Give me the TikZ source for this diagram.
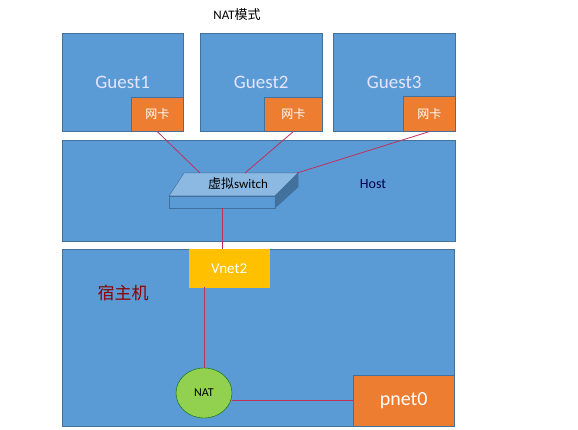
\documentclass[tikz,border=0pt]{standalone}
\usepackage{fontspec}
\setmainfont{Carlito}
\newfontfamily\cjk{Noto Sans CJK SC}
\usetikzlibrary{positioning}
\usetikzlibrary{shapes.geometric}

\definecolor{boxblue}{HTML}{5B9BD5}
\definecolor{boxedge}{HTML}{41719C}
\definecolor{nicorange}{HTML}{ED7D31}
\definecolor{vnetyellow}{HTML}{FFC000}
\definecolor{natgreen}{HTML}{92D050}
\definecolor{wire}{HTML}{C0305A}

\begin{document}
\begin{tikzpicture}[x=1pt, y=-1pt]
    \tikzset{
        vmbox/.style={draw=boxedge, fill=boxblue, line width=0.6pt, inner sep=0pt, anchor=north west},
        nicbox/.style={draw=boxedge, fill=nicorange, line width=0.6pt, inner sep=0pt, anchor=north west, text=white, font=\cjk\fontsize{12}{14}\selectfont},
        guesttext/.style={text=blue!10, font=\fontsize{19}{21}\selectfont},
        link/.style={wire, line width=0.8pt}
    }
    \useasboundingbox (0,0) rectangle (578,430);
    \fill[white] (0,0) rectangle (578,430);

    \node[font=\fontsize{13}{15}\selectfont] (title) at (237,15) {NAT{\cjk 模式}};

    % guests
    \node[vmbox, guesttext, minimum width=121pt, minimum height=98pt] (g1) at (62,33) {Guest1};
    \node[vmbox, guesttext, minimum width=122pt, minimum height=98pt] (g2) at (200,33) {Guest2};
    \node[vmbox, guesttext, minimum width=122pt, minimum height=98pt] (g3) at (333,33) {Guest3};
    \node[nicbox, minimum width=52pt, minimum height=34pt] (nic1) at (131,97) {网卡};
    \node[nicbox, minimum width=58pt, minimum height=34pt] (nic2) at (264,97) {网卡};
    \node[nicbox, minimum width=52pt, minimum height=35pt] (nic3) at (403,96) {网卡};

    % host
    \node[vmbox, minimum width=393pt, minimum height=101pt] (host) at (62,140) {};
    \node[text=blue!30!black, font=\fontsize{14}{16}\selectfont] (hostlabel) at (373,184) {Host};

    \filldraw[draw=boxedge, fill=boxblue!70!white, line width=0.5pt] (169,196) -- (184,173) -- (298,173) -- (275,196) -- cycle;
    \filldraw[draw=boxedge, fill=boxblue, line width=0.5pt] (169,196) rectangle (275,208);
    \filldraw[draw=boxedge, fill=boxedge, line width=0.5pt] (275,196) -- (298,173) -- (298,187) -- (275,208) -- cycle;
    \node[font=\fontsize{13}{15}\selectfont] (sw) at (238,184) {{\cjk 虚拟}switch};
    \coordinate (swa) at (200,173);
    \coordinate (swb) at (245,173);
    \coordinate (swc) at (297,173);
    \coordinate (swd) at (222,208);

    % physical machine
    \node[vmbox, minimum width=392pt, minimum height=177pt] (pm) at (62,249) {};
    \node[text=red!55!black, font=\cjk\fontsize{17}{19}\selectfont] (pmlabel) at (123,293) {宿主机};
    \node[draw=vnetyellow, fill=vnetyellow, anchor=north west, minimum width=80pt, minimum height=38pt, inner sep=0pt, text=white, font=\fontsize{15}{17}\selectfont] (vnet) at (189,249) {Vnet2};
    \node[ellipse, draw=green!40!black, fill=natgreen, minimum width=56pt, minimum height=50pt, inner sep=0pt, font=\fontsize{12}{14}\selectfont] (nat) at (204,393) {NAT};
    \node[draw=boxedge, fill=nicorange, anchor=north west, minimum width=101pt, minimum height=51pt, inner sep=0pt, text=white, font=\fontsize{20}{22}\selectfont] (pnet) at (353,375) {pnet0};

    \draw[link] (nic1.south) -- (swa);
    \draw[link] (nic2.south) -- (swb);
    \draw[link] (nic3.south) -- (swc);
    \draw[link] (swd) -- (swd |- vnet.north);
    \draw[link] (nat.north |- vnet.south) -- (nat.north);
    \draw[link] (nat.east |- pnet.west) -- (pnet.west);
\end{tikzpicture}
\end{document}
